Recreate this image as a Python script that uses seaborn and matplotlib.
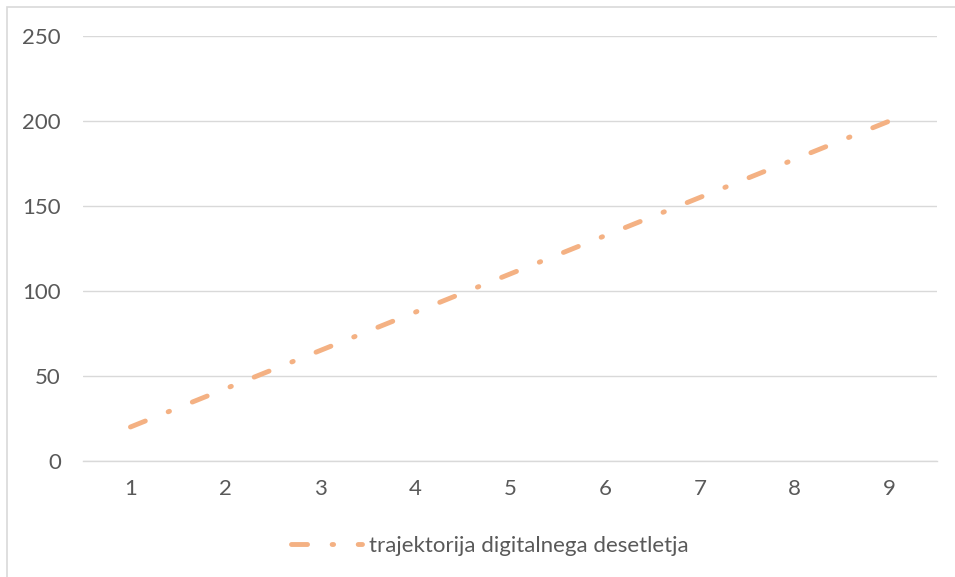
import matplotlib
matplotlib.use("Agg")
import matplotlib.pyplot as plt
import seaborn as sns
import pandas as pd
from matplotlib.lines import Line2D
from matplotlib.patches import Rectangle

# Data
categories = [1, 2, 3, 4, 5, 6, 7, 8, 9]
values = [20, 42.5, 65, 87.5, 110, 132.5, 155, 177.5, 200]
series_name = "trajektorija digitalnega desetletja"
y_ticks = [0, 50, 100, 150, 200, 250]

line_color = "#F4B183"
text_color = "#595959"
grid_color = "#D9D9D9"

sns.set_style("white")
plt.rcParams['font.family'] = ['Lato', 'DejaVu Sans']

df = pd.DataFrame({"x": categories, "y": values})

fig = plt.figure(figsize=(9.55, 5.77), dpi=100)
ax = fig.add_axes([83 / 955, 1 - 461 / 577, (937 - 83) / 955, (461 - 36) / 577])

lw = 3.5
sns.lineplot(data=df, x="x", y="y", ax=ax, color=line_color, linewidth=lw)
dash_style = (0, (3.3, 5.06, 0.3, 5.06))
ln = ax.lines[0]
ln.set_linestyle(dash_style)
ln.set_dash_capstyle("round")
ln.set_solid_capstyle("round")

ax.set_xlim(0.5, 9.5)
ax.set_ylim(0, 250)
ax.set_xticks(categories)
ax.set_yticks(y_ticks)
ax.set_xlabel("")
ax.set_ylabel("")

# gridlines and axis
ax.grid(axis="y", color=grid_color, linewidth=1.0)
ax.grid(axis="x", visible=False)
ax.set_axisbelow(True)
for side in ["left", "right", "top"]:
    ax.spines[side].set_visible(False)
ax.spines["bottom"].set_color(grid_color)
ax.spines["bottom"].set_linewidth(1.0)
ax.tick_params(axis="both", length=0, labelsize=16, colors=text_color)
ax.tick_params(axis="y", pad=16)
ax.tick_params(axis="x", pad=13)

# legend at the bottom
handle = Line2D([0], [0], color=line_color, linewidth=lw, linestyle=dash_style,
                dash_capstyle="round")
fig.legend([handle], [series_name], loc="center", bbox_to_anchor=(0.513, 0.054),
           frameon=False, fontsize=16, labelcolor=text_color,
           handlelength=3.2, handletextpad=0.3)

# chart area border (only left and top show in the crop)
fig.patches.append(Rectangle((7 / 955, -0.1), 1.2, 1 - 7 / 577 + 0.1,
                             transform=fig.transFigure, fill=False,
                             edgecolor="#D9D9D9", linewidth=1.2))

fig.savefig("out.png", dpi=100)
